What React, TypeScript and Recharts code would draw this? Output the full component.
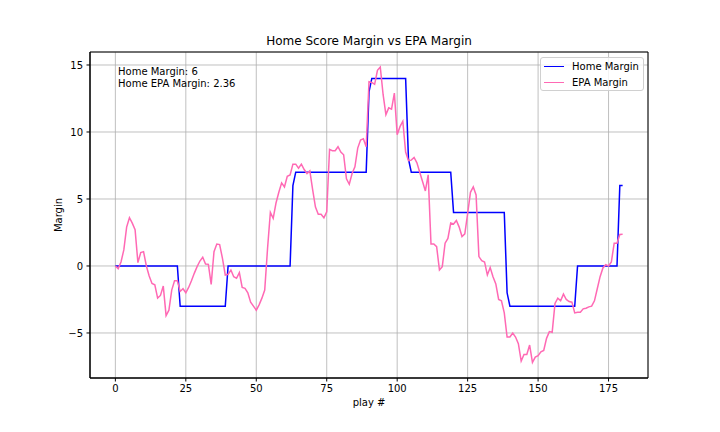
import React from 'react';
import { LineChart, Line, XAxis, YAxis, CartesianGrid, ReferenceArea } from 'recharts';

// home score margin after each play
const homeMargin = [
  0, 0, 0, 0, 0, 0, 0, 0, 0, 0, 0, 0, 0, 0, 0, 0, 0, 0, 0, 0, 0, 0, 0,
  -3, -3, -3, -3, -3, -3, -3, -3, -3, -3, -3, -3, -3, -3, -3, -3, -3,
  0, 0, 0, 0, 0, 0, 0, 0, 0, 0, 0, 0, 0, 0, 0, 0, 0, 0, 0, 0, 0, 0, 0,
  6,
  7, 7, 7, 7, 7, 7, 7, 7, 7, 7, 7, 7, 7, 7, 7, 7, 7, 7, 7, 7, 7, 7, 7, 7, 7, 7,
  13,
  14, 14, 14, 14, 14, 14, 14, 14, 14, 14, 14, 14, 14,
  8,
  7, 7, 7, 7, 7, 7, 7, 7, 7, 7, 7, 7, 7, 7, 7,
  4, 4, 4, 4, 4, 4, 4, 4, 4, 4, 4, 4, 4, 4, 4, 4, 4, 4, 4,
  -2,
  -3, -3, -3, -3, -3, -3, -3, -3, -3, -3, -3, -3, -3, -3, -3, -3, -3, -3, -3, -3, -3, -3, -3, -3,
  0, 0, 0, 0, 0, 0, 0, 0, 0, 0, 0, 0, 0, 0, 0,
  6, 6,
];

// expected points margin after each play
const epaMargin = [
  0, -0.2, 0.3, 1.2, 2.9, 3.6, 3.2, 2.7, 0.25, 1.0,
  1.07, 0, -0.75, -1.3, -1.4, -2.4, -2.2, -1.5, -3.7, -3.3,
  -1.8, -1.1, -1.1, -1.9, -1.7, -2.0, -1.6, -1.1, -0.55, -0.05,
  0.37, 0.65, 0.15, 0.12, -1.37, 1.07, 1.64, 1.6, 0.57, -0.67,
  -0.62, -0.3, -0.8, -0.92, -0.5, -1.6, -1.67, -2.0, -2.7, -3.0,
  -3.3, -2.9, -2.4, -1.8, 1.3, 4.0, 3.56, 4.7, 5.5, 6.2,
  5.9, 6.7, 6.8, 7.6, 7.6, 7.3, 7.6, 7.2, 6.9, 7.1,
  5.7, 4.4, 3.86, 3.86, 3.6, 4.05, 8.7, 8.6, 8.6, 8.9,
  8.5, 8.3, 6.5, 6.1, 6.9, 7.4, 8.8, 9.4, 9.5, 8.9,
  13.76, 13.7, 13.56, 14.6, 14.85, 12.8, 11.3, 11.8, 11.7, 12.9,
  9.8, 10.4, 10.8, 8.5, 7.86, 7.9, 8.1, 7.7, 7.0, 6.3,
  5.6, 6.8, 1.64, 1.64, 1.44, -0.3, -0.05, 1.7, 2.06, 3.2,
  3.13, 3.4, 2.9, 2.2, 2.4, 3.9, 5.5, 5.9, 5.3, 0.7,
  0.4, 0.3, -0.67, -0.12, -0.8, -1.34, -2.5, -2.6, -3.5, -5.3,
  -5.3, -5.0, -5.3, -5.8, -7.1, -6.6, -6.6, -5.9, -7.2, -6.8,
  -6.7, -6.4, -6.3, -5.4, -4.9, -4.95, -2.8, -2.4, -2.6, -2.1,
  -2.5, -2.65, -2.7, -3.5, -3.45, -3.45, -3.2, -3.15, -3.05, -3.0,
  -2.6, -1.7, -0.8, -0.15, 0.1, 0, 0.3, 1.7, 1.7, 2.35,
  2.36,
];

const xTicks = [0, 25, 50, 75, 100, 125, 150, 175];
const yTicks = [-5, 0, 5, 10, 15];
const xDomain = [-9, 189];
const yDomain = [-8.36, 15.97];

const data = homeMargin.map((h, i) => ({ play: i, home: h, epa: epaMargin[i] }));

const fmt = (v: number) => String(v).replace('-', '\u2212');

export default function App() {
  const font = '"DejaVu Sans", sans-serif';
  const lastHome = homeMargin[homeMargin.length - 1];
  const lastEpa = epaMargin[epaMargin.length - 1];

  return (
    <div style={{ position: 'fixed', left: 0, top: 0, width: 720, height: 432, background: '#fff', fontFamily: font, color: '#000' }}>
      <LineChart
        width={720}
        height={432}
        data={data}
        margin={{ top: 52, right: 72, bottom: 24, left: 50 }}
      >
        <CartesianGrid stroke="#b0b0b0" strokeWidth={0.8} />
        <XAxis
          dataKey="play"
          type="number"
          domain={xDomain}
          ticks={xTicks}
          allowDataOverflow
          height={30}
          stroke="#000"
          tickSize={3.5}
          tickMargin={3.5}
          tick={{ fill: '#000', fontSize: 10, fontFamily: font }}
        />
        <YAxis
          type="number"
          domain={yDomain}
          ticks={yTicks}
          allowDataOverflow
          width={40}
          stroke="#000"
          tickSize={3.5}
          tickMargin={3.5}
          tickFormatter={fmt}
          tick={{ fill: '#000', fontSize: 10, fontFamily: font }}
        />
        <ReferenceArea
          x1={xDomain[0]}
          x2={xDomain[1]}
          y1={yDomain[0]}
          y2={yDomain[1]}
          fill="none"
          stroke="#000"
          strokeWidth={1}
        />
        <Line type="linear" dataKey="home" stroke="#0000ff" strokeWidth={1.5} dot={false} isAnimationActive={false} />
        <Line type="linear" dataKey="epa" stroke="#ff69b4" strokeWidth={1.5} dot={false} isAnimationActive={false} />
      </LineChart>

      <div style={{ position: 'absolute', left: 90, width: 558, top: 34, textAlign: 'center', fontSize: 12, lineHeight: '14px' }}>
        Home Score Margin vs EPA Margin
      </div>
      <div style={{ position: 'absolute', left: 90, width: 558, top: 397, textAlign: 'center', fontSize: 10, lineHeight: '12px' }}>
        play #
      </div>
      <div style={{ position: 'absolute', left: 59, top: 215, fontSize: 10, lineHeight: '12px', transform: 'translate(-50%, -50%) rotate(-90deg)', whiteSpace: 'nowrap' }}>
        Margin
      </div>

      <div style={{ position: 'absolute', left: 118, top: 66, fontSize: 10, lineHeight: '12px', whiteSpace: 'nowrap' }}>
        <div>Home Margin: {lastHome}</div>
        <div>Home EPA Margin: {lastEpa}</div>
      </div>

      <div style={{ position: 'absolute', left: 540, top: 57, width: 102, height: 32, border: '1px solid #d0d0d0', borderRadius: 3, background: 'rgba(255,255,255,0.8)', fontSize: 10 }}>
        {[
          { name: 'Home Margin', color: '#0000ff' },
          { name: 'EPA Margin', color: '#ff69b4' },
        ].map((s, i) => (
          <div key={s.name} style={{ position: 'absolute', left: 3, top: 2 + i * 16, height: 12, display: 'flex', alignItems: 'center', whiteSpace: 'nowrap' }}>
            <span style={{ display: 'inline-block', width: 20, height: 0, borderTop: `1.5px solid ${s.color}`, marginRight: 8 }} />
            <span>{s.name}</span>
          </div>
        ))}
      </div>
    </div>
  );
}
